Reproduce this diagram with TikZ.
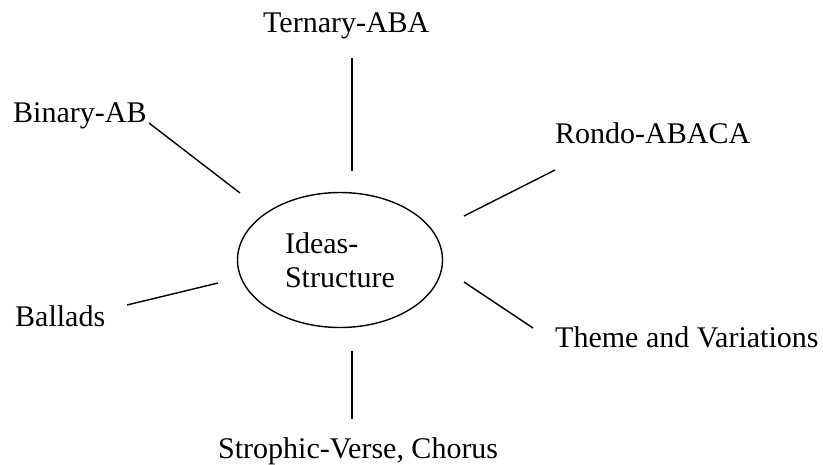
\documentclass[tikz,border=0pt]{standalone}
\usepackage{fontspec}
\setmainfont{Liberation Serif}
\usetikzlibrary{shapes.geometric}

\begin{document}
\begin{tikzpicture}[
    x=1pt, y=-1pt,
    idea/.style={
        ellipse, draw, line width=1.4pt, inner sep=0pt,
        minimum width=205pt, minimum height=135pt,
        font=\fontsize{30}{34}\selectfont, align=left
    },
    form/.style={anchor=base west, inner sep=0pt, font=\fontsize{30}{34}\selectfont},
    spoke/.style={line width=1.4pt}
]
\useasboundingbox (0,0) rectangle (823,464);

% Centre
\node[idea] (ideas) at (340,260) {Ideas-\\Structure};

% Forms round it
\node[form] (ternary) at (263,32) {Ternary-ABA};
\node[form] (binary) at (13,122) {Binary-AB};
\node[form] (rondo) at (555,143) {Rondo-ABACA};
\node[form] (ballads) at (15,326) {Ballads};
\node[form] (theme) at (555,347) {Theme and Variations};
\node[form] (strophic) at (218,458) {Strophic-Verse, Chorus};

% === Spoke ends (the lines touch neither node) ===
\coordinate (ternary-in) at (352,171);
\coordinate (ternary-out) at (352,58);
\coordinate (binary-in) at (240,193);
\coordinate (binary-out) at (149,123);
\coordinate (rondo-in) at (464,216);
\coordinate (rondo-out) at (555,170);
\coordinate (ballads-in) at (218,283);
\coordinate (ballads-out) at (127,305);
\coordinate (theme-in) at (464,282);
\coordinate (theme-out) at (533,328);
\coordinate (strophic-in) at (352,351);
\coordinate (strophic-out) at (352,419);

% === Spokes ===
\draw[spoke] (ternary-in) -- (ternary-out);
\draw[spoke] (binary-in) -- (binary-out);
\draw[spoke] (rondo-in) -- (rondo-out);
\draw[spoke] (ballads-in) -- (ballads-out);
\draw[spoke] (theme-in) -- (theme-out);
\draw[spoke] (strophic-in) -- (strophic-out);

\end{tikzpicture}
\end{document}
